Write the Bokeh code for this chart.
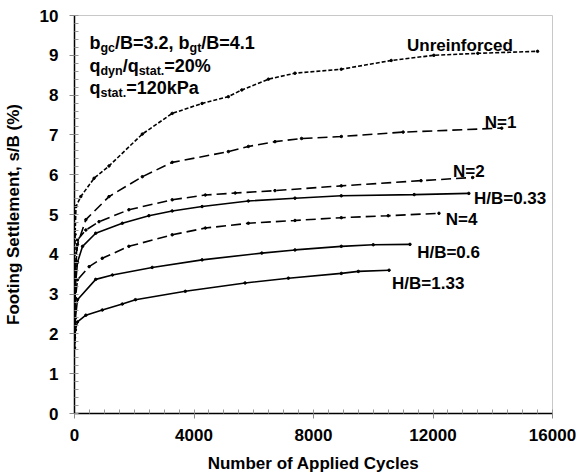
from bokeh.plotting import figure
from bokeh.models import Range1d, FixedTicker
from bokeh.core.properties import value
from bokeh.embed import file_html
from bokeh.resources import INLINE

# Settlement curves: number of cycles vs footing settlement s/B (%)
unreinf_n = [1, 20, 50, 210, 655, 1155, 2270, 3270, 4270, 5150, 5600, 6490, 7380, 8930, 10600, 12030, 13500, 15500]
unreinf_s = [2.3, 4.5, 5.2, 5.45, 5.91, 6.22, 7.02, 7.54, 7.79, 7.96, 8.13, 8.4, 8.55, 8.65, 8.87, 9.0, 9.05, 9.1]

n1_n = [1, 30, 100, 380, 1155, 2270, 3270, 5150, 5820, 6710, 7600, 8930, 11000, 14300]
n1_s = [2.2, 3.6, 4.25, 4.87, 5.45, 5.95, 6.31, 6.58, 6.71, 6.83, 6.91, 6.96, 7.07, 7.17]

n2_n = [1, 30, 100, 380, 820, 1820, 3270, 4380, 5380, 6710, 8930, 11600, 13330]
n2_s = [2.1, 3.7, 4.36, 4.61, 4.82, 5.12, 5.37, 5.49, 5.54, 5.6, 5.72, 5.85, 5.93]

hb033_n = [1, 30, 100, 270, 710, 1600, 2490, 3270, 4270, 5820, 7380, 8930, 11370, 13200]
hb033_s = [2.0, 3.2, 3.8, 4.2, 4.53, 4.78, 4.97, 5.09, 5.2, 5.34, 5.41, 5.47, 5.5, 5.53]

n4_n = [1, 30, 100, 490, 930, 1820, 3270, 4380, 5820, 7380, 8930, 10500, 12200]
n4_s = [1.9, 2.9, 3.36, 3.69, 3.9, 4.2, 4.49, 4.66, 4.78, 4.85, 4.92, 4.97, 5.03]

hb06_n = [1, 30, 100, 710, 1270, 2600, 4270, 6270, 7380, 8930, 10000, 11230]
hb06_s = [1.8, 2.4, 2.86, 3.37, 3.48, 3.67, 3.86, 4.03, 4.11, 4.2, 4.24, 4.25]

hb133_n = [1, 30, 100, 380, 930, 1600, 2040, 3710, 5710, 7160, 8930, 9500, 10530]
hb133_s = [1.65, 2.1, 2.3, 2.47, 2.6, 2.75, 2.86, 3.07, 3.28, 3.4, 3.52, 3.57, 3.6]

curve_labels = ["Unreinforced", "N=1", "N=2", "H/B=0.33", "N=4", "H/B=0.6", "H/B=1.33"]
label_x = [11130, 13730, 12670, 13370, 12430, 11470, 10630]
label_y = [9.25, 7.31, 6.08, 5.40, 4.87, 4.05, 3.27]

x_ticks = [0, 4000, 8000, 12000, 16000]
y_ticks = list(range(0, 11))

FONT = value("Liberation Sans")

p = figure(width=581, height=476, output_backend="svg", toolbar_location=None,
           x_range=Range1d(0, 16000), y_range=Range1d(0, 10),
           min_border_left=72, min_border_right=29, min_border_top=15, min_border_bottom=63)
p.xgrid.visible = False
p.ygrid.visible = False
p.outline_line_color = "#c8c8c8"
p.outline_line_width = 1
p.background_fill_color = "white"
p.border_fill_color = "white"

series = [
    (unreinf_n, unreinf_s, "4 2"),
    (n1_n, n1_s, "10 5"),
    (n2_n, n2_s, "10 5"),
    (hb033_n, hb033_s, "solid"),
    (n4_n, n4_s, "10 5"),
    (hb06_n, hb06_s, "solid"),
    (hb133_n, hb133_s, "solid"),
]
for xs, ys, dash in series:
    p.line(xs, ys, line_color="black", line_width=1.6, line_dash=dash)
    p.scatter(xs, ys, size=2.5, color="black")

p.text(x=label_x, y=label_y, text=curve_labels, text_font=FONT, text_font_style="bold",
       text_font_size="17px", text_color="black", text_baseline="alphabetic")

# Test-condition note with subscripts
x0 = 500
main_txt = ["b", "/B=3.2, b", "/B=4.1", "q", "/q", "=20%", "q", "=120kPa"]
main_y = [9.30, 9.30, 9.30, 8.74, 8.74, 8.74, 8.19, 8.19]
main_dx = [0, 25.6, 111.9, 0, 33.2, 74.9, 0, 36.7]
sub_txt = ["gc", "gt", "dyn", "stat.", "stat."]
sub_y = [9.30, 9.30, 8.74, 8.74, 8.19]
sub_dx = [11.0, 100.1, 11.0, 49.2, 11.0]
p.text(x=[x0] * len(main_txt), y=main_y, text=main_txt, x_offset=main_dx,
       text_font=FONT, text_font_style="bold", text_font_size="18px",
       text_color="black", text_baseline="alphabetic")
p.text(x=[x0] * len(sub_txt), y=sub_y, text=sub_txt, x_offset=sub_dx, y_offset=[5] * len(sub_txt),
       text_font=FONT, text_font_style="bold", text_font_size="12.5px",
       text_color="black", text_baseline="alphabetic")

x_minor = [i * 500 for i in range(0, 33)]
y_minor = [round(i * 0.2, 1) for i in range(0, 51)]
p.xaxis.ticker = FixedTicker(ticks=x_ticks, minor_ticks=x_minor)
p.yaxis.ticker = FixedTicker(ticks=y_ticks, minor_ticks=y_minor)

for ax in (p.xaxis[0], p.yaxis[0]):
    ax.axis_line_color = "black"
    ax.axis_line_width = 1.5
    ax.major_tick_in = 0
    ax.major_tick_out = 5
    ax.minor_tick_in = 4
    ax.minor_tick_out = 0
    ax.major_tick_line_color = "#888888"
    ax.minor_tick_line_color = "#999999"
    ax.major_label_text_font = "Liberation Sans"
    ax.major_label_text_font_style = "bold"
    ax.major_label_text_font_size = "17px"
    ax.major_label_text_color = "black"
    ax.axis_label_text_font = "Liberation Sans"
    ax.axis_label_text_font_style = "bold"
    ax.axis_label_text_font_size = "17px"
    ax.axis_label_text_color = "black"

p.xaxis.axis_label = "Number of Applied Cycles"
p.yaxis.axis_label = "Footing Settlement, s/B (%)"
p.xaxis.major_label_standoff = 10
p.xaxis.axis_label_standoff = 10
p.yaxis.major_label_standoff = 11
p.yaxis.axis_label_standoff = 14

open("out.html", "w").write(file_html(p, INLINE))
